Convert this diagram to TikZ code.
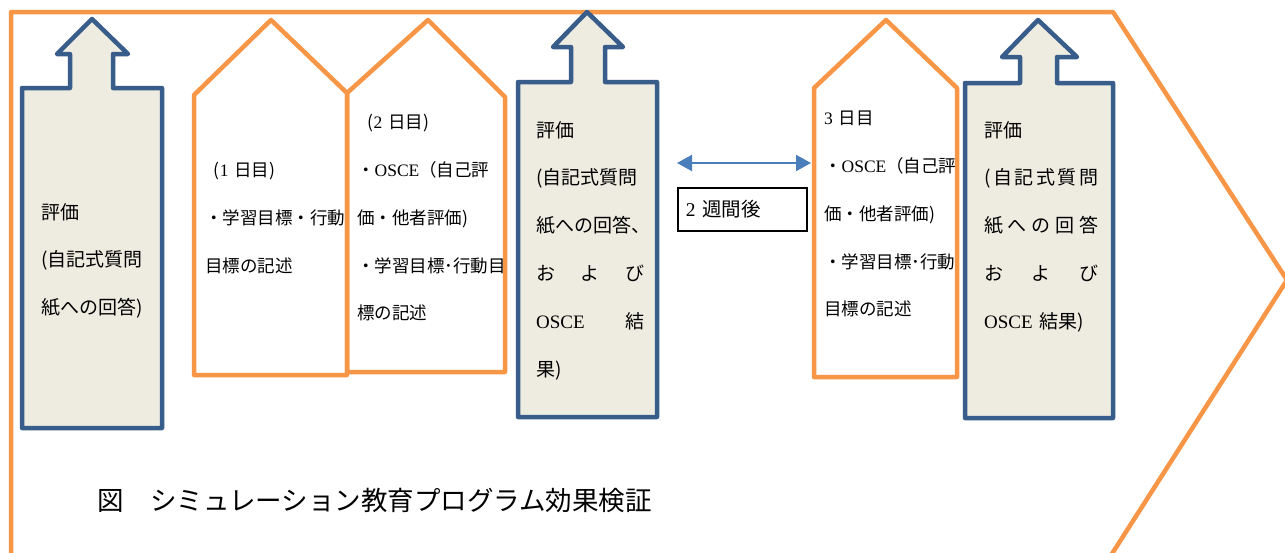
\documentclass[tikz,border=0pt]{standalone}
\usepackage{fontspec}
\setmainfont{Noto Sans CJK JP}
\newfontfamily\latf{Liberation Serif}
\usetikzlibrary{arrows.meta}
\definecolor{orng}{HTML}{F79646}
\definecolor{blu}{HTML}{385D8A}
\definecolor{tanbg}{HTML}{EEECE1}
\definecolor{arrb}{HTML}{4A7EBB}
\tikzset{
  orangeline/.style={draw=orng, line width=4.5pt, line join=round},
  bluearrow/.style={draw=blu, fill=tanbg, line width=4.5pt, line join=round},
  arrowtext/.style={anchor=base west, inner sep=0pt, align=left, font=\fontsize{19}{47.8}\selectfont},
  housetext/.style={anchor=base west, inner sep=0pt, align=left, font=\fontsize{17.5}{47.8}\selectfont},
  weekbox/.style={draw=black, line width=1.6pt, anchor=north west, inner xsep=8pt, inner ysep=0pt,
    text width=113pt, minimum height=43pt, align=left, font=\fontsize{19.5}{22}\selectfont},
  twoway/.style={draw=arrb, line width=2pt, {Triangle[length=15pt,width=16pt]}-{Triangle[length=15pt,width=16pt]}},
  captiontext/.style={anchor=base west, inner sep=0pt, font=\fontsize{26.5}{30}\selectfont}
}
\begin{document}
\begin{tikzpicture}[x=1pt,y=-1pt]
\useasboundingbox (0,0) rectangle (1285,552);
\fill[white] (0,0) rectangle (1285,552);
% big chevron
\begin{scope}
\clip (0,0) rectangle (1285,552);
\draw[orangeline] (11,600) -- (11,12) -- (1113,12) -- (1287,280) -- (1108,560) -- (11,560);
\end{scope}
% orange house shapes
\draw[orangeline] (194,375) -- (194,95) -- (271,20) -- (347,93) -- (347,375) -- cycle;
\draw[orangeline] (347,372) -- (347,93) -- (428,20) -- (505,97) -- (505,372) -- cycle;
\draw[orangeline] (814,377) -- (814,88) -- (886,20) -- (957,88) -- (957,377) -- cycle;
% blue up arrows
\draw[bluearrow] (22,88) -- (70,88) -- (70,54) -- (57,54) -- (92,19) -- (128,54) -- (113,54) -- (113,88) -- (162,88) -- (162,428) -- (22,428) -- cycle;
\draw[bluearrow] (518,82) -- (571,82) -- (571,47) -- (553,47) -- (587,12) -- (623,47) -- (605,47) -- (605,82) -- (657,82) -- (657,417) -- (518,417) -- cycle;
\draw[bluearrow] (965,83) -- (1020,83) -- (1020,57) -- (1002,57) -- (1038,20) -- (1077,57) -- (1057,57) -- (1057,83) -- (1113,83) -- (1113,418) -- (965,418) -- cycle;
% texts in blue arrows
\node[arrowtext, text width=115pt] (evalA) at (41,219) {評価\\(自記式質問\\紙への回答)};
\node[arrowtext, text width=108pt] (evalB) at (536,137) {評価\\(自記式質問\\紙への回答、\\お\hfill よ\hfill び\\{\latf OSCE}\hfill 結\\果)};
\node[arrowtext, text width=114pt] (evalC) at (984,137) {評価\\(\hfill 自\hfill 記\hfill 式\hfill 質\hfill 問\\紙\hfill へ\hfill の\hfill 回\hfill 答\\お\hfill よ\hfill び\\{\latf OSCE} 結果)};
% texts in houses
\node[housetext, text width=145pt] (day1) at (205,176.6) {\hspace*{0.5em}({\latf 1} 日目)\\・学習目標・行動\\目標の記述};
\node[housetext, text width=150pt] (day2) at (357,128.6) {\hspace*{0.6em}({\latf 2} 日目)\\・{\latf OSCE}（自己評\\価・他者評価)\\・学習目標･行動目\\標の記述};
\node[housetext, text width=135pt] (day3) at (824,124.7) {{\latf 3} 日目\\・{\latf OSCE}（自己評\\価・他者評価)\\・学習目標･行動\\目標の記述};
% two weeks
\coordinate (wl) at (677,163);
\coordinate (wr) at (811,163);
\draw[twoway] (wl) -- (wr);
\node[weekbox] (weeks) at (677,187) {{\latf 2} 週間後};
% caption
\node[captiontext] (cap) at (97,510) {図　シミュレーション教育プログラム効果検証};
\end{tikzpicture}
\end{document}
